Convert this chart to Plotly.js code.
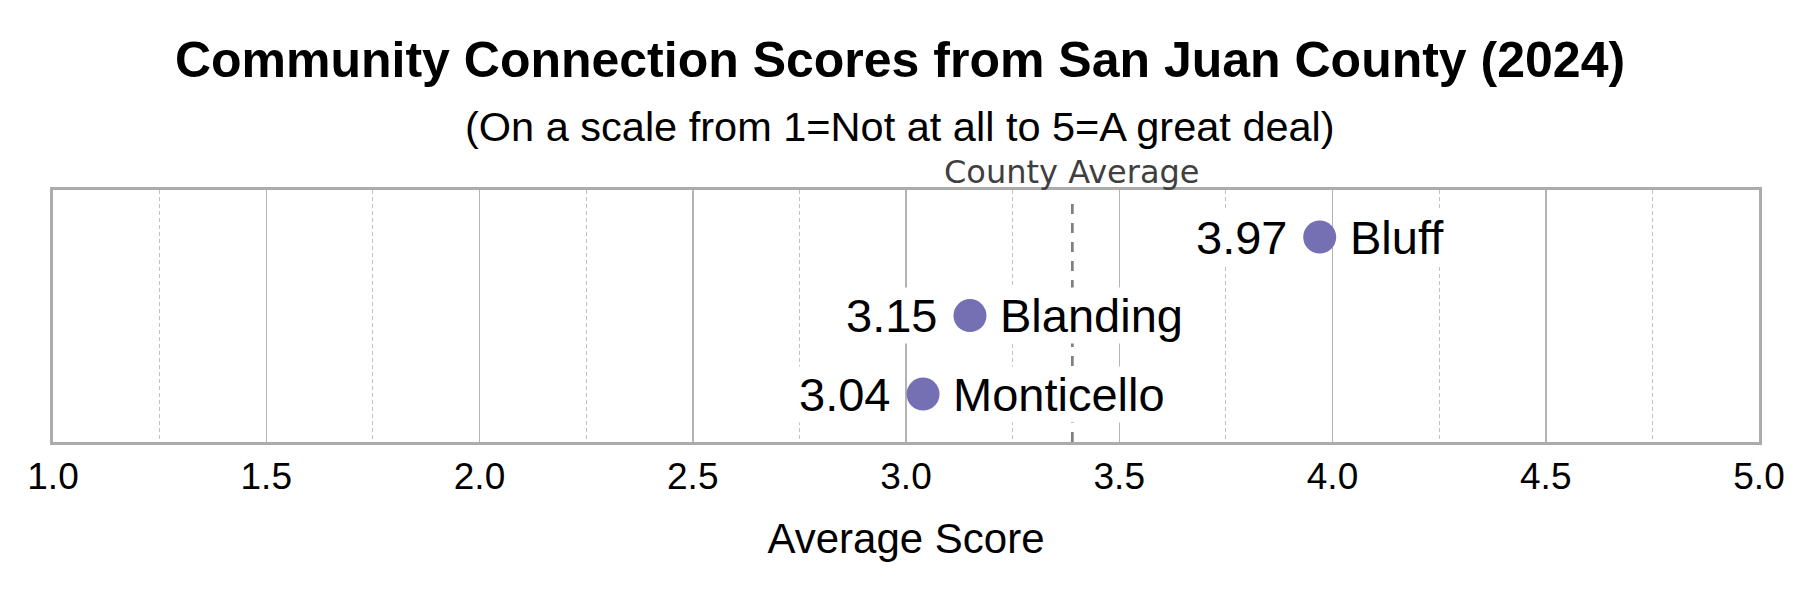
<!DOCTYPE html>
<html>
<head>
<meta charset="utf-8">
<script src="https://cdn.plot.ly/plotly-3.0.1.min.js"></script>
<style>html,body{margin:0;padding:0;background:#fff;}#chart{width:1800px;height:600px;}</style>
</head>
<body>
<div id="chart"></div>
<script>
// Data
var communities = ["Bluff", "Blanding", "Monticello"];
var scores = [3.97, 3.15, 3.04];
var countyAverage = 3.39;
var categoryOrder = ["Monticello", "Blanding", "Bluff"]; // bottom to top
var tickValues = [1.0, 1.5, 2.0, 2.5, 3.0, 3.5, 4.0, 4.5, 5.0];
var tickLabels = ["1.0", "1.5", "2.0", "2.5", "3.0", "3.5", "4.0", "4.5", "5.0"];

var FONT = "Liberation Sans, Arial, Helvetica, sans-serif";
var PURPLE = "#7570b3";

var traces = [
  {
    type: "scatter",
    mode: "markers",
    x: scores,
    y: communities,
    marker: {color: PURPLE, size: 33, line: {width: 0}},
    showlegend: false,
    cliponaxis: false
  }
];

var shapes = [
  {
    type: "line", layer: "below",
    xref: "x", yref: "paper",
    x0: countyAverage, x1: countyAverage, y0: 0, y1: 0.973,
    line: {color: "#7f7f7f", width: 2.7, dash: "10px,9px"}
  }
];

var annotations = [];
for (var i = 0; i < communities.length; i++) {
  annotations.push({
    x: scores[i], y: communities[i], xref: "x", yref: "y",
    text: scores[i].toFixed(2), showarrow: false,
    xanchor: "right", yanchor: "middle", xshift: -31,
    font: {family: FONT, size: 47, color: "#000"},
    bgcolor: "#ffffff", borderpad: 1
  });
  annotations.push({
    x: scores[i], y: communities[i], xref: "x", yref: "y",
    text: communities[i], showarrow: false,
    xanchor: "left", yanchor: "middle", xshift: 28,
    font: {family: FONT, size: 47, color: "#000"},
    bgcolor: "#ffffff", borderpad: 1
  });
}
annotations.push({
  x: countyAverage, xref: "x", y: 1.0726, yref: "paper",
  text: "County Average", showarrow: false,
  xanchor: "center", yanchor: "middle",
  font: {family: "DejaVu Sans, sans-serif", size: 32, color: "#3f3f3f"}
});
annotations.push({
  x: 0.4965, xref: "paper", y: 1.252, yref: "paper",
  text: "(On a scale from 1=Not at all to 5=A great deal)", showarrow: false,
  xanchor: "center", yanchor: "middle",
  font: {family: FONT, size: 41.5, color: "#000"}
});

var layout = {
  width: 1800,
  height: 600,
  paper_bgcolor: "#ffffff",
  plot_bgcolor: "#ffffff",
  margin: {l: 53, r: 41, t: 190, b: 158, pad: 0},
  title: {
    text: "<b>Community Connection Scores from San Juan County (2024)</b>",
    font: {family: FONT, size: 50, color: "#000"},
    x: 0.5, xref: "container", xanchor: "center",
    y: 1 - 59 / 600, yref: "container", yanchor: "middle"
  },
  xaxis: {
    range: [1, 5],
    tickmode: "array",
    tickvals: tickValues,
    ticktext: tickLabels,
    ticks: "",
    tickfont: {family: FONT, size: 37, color: "#000"},
    showgrid: true,
    gridcolor: "#b3b3b3",
    gridwidth: 1.5,
    minor: {
      tickmode: "linear", tick0: 1.25, dtick: 0.5,
      showgrid: true, gridcolor: "#c2c2c2", gridwidth: 1.1, griddash: "4px,3px", ticks: ""
    },
    zeroline: false,
    showline: true,
    linecolor: "#ababab",
    linewidth: 3,
    mirror: true,
    title: {
      text: "Average Score",
      font: {family: FONT, size: 42, color: "#000"},
      standoff: 28
    },
    fixedrange: true
  },
  yaxis: {
    type: "category",
    categoryorder: "array",
    categoryarray: categoryOrder,
    range: [-0.61, 2.6],
    showticklabels: false,
    ticks: "",
    showgrid: false,
    zeroline: false,
    showline: true,
    linecolor: "#ababab",
    linewidth: 3,
    mirror: true,
    fixedrange: true
  },
  shapes: shapes,
  annotations: annotations,
  showlegend: false,
  hovermode: false
};

Plotly.newPlot("chart", traces, layout, {displayModeBar: false, staticPlot: true});
</script>
</body>
</html>
